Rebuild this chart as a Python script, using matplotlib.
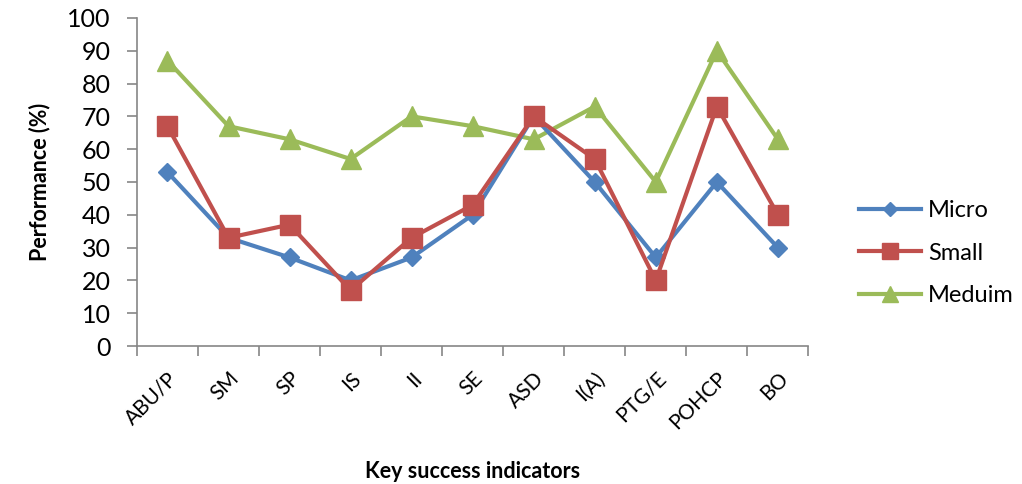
import matplotlib
matplotlib.use("Agg")
import matplotlib.pyplot as plt
import numpy as np

categories = ["ABU/P", "SM", "SP", "IS", "II", "SE", "ASD", "I(A)", "PTG/E", "POHCP", "BO"]
micro = [53, 33, 27, 20, 27, 40, 70, 50, 27, 50, 30]
small = [67, 33, 37, 17, 33, 43, 70, 57, 20, 73, 40]
medium = [87, 67, 63, 57, 70, 67, 63, 73, 50, 90, 63]
y_ticks = list(range(0, 101, 10))

plt.rcParams["font.family"] = ["Lato", "DejaVu Sans"]

fig = plt.figure(figsize=(10.22, 4.84), dpi=100)
ax = fig.add_axes([0.134, 0.285, 0.657, 0.678])

x = np.arange(len(categories))
ax.plot(x, micro, color="#4F81BD", lw=3, marker="D", ms=9, label="Micro", zorder=3)
ax.plot(x, small, color="#C0504D", lw=3, marker="s", ms=14, label="Small", zorder=4)
ax.plot(x, medium, color="#9BBB59", lw=3, marker="^", ms=14, label="Meduim", zorder=2)

ax.set_xlim(-0.5, len(categories) - 0.5)
ax.set_ylim(0, 100)
ax.set_yticks(y_ticks)
ax.tick_params(axis="y", labelsize=18, length=7, width=1.2, color="#868686", pad=12)

ax.set_xticks(x)
ax.set_xticklabels(categories, rotation=45, ha="right", rotation_mode="anchor", fontsize=15)
ax.tick_params(axis="x", which="major", length=0, pad=16)
ax.set_xticks(np.arange(-0.5, len(categories)), minor=True)
ax.tick_params(axis="x", which="minor", length=7, width=1.2, color="#868686")

for side in ("top", "right"):
    ax.spines[side].set_visible(False)
for side in ("left", "bottom"):
    ax.spines[side].set_color("#868686")
    ax.spines[side].set_linewidth(1.2)

ax.set_ylabel("Performance (%)", fontsize=15.5, fontweight="bold", labelpad=12)
ax.set_xlabel("Key success indicators", fontsize=15.5, fontweight="bold", labelpad=20)

fig.legend(loc="center left", bbox_to_anchor=(0.82, 0.477), frameon=False,
           fontsize=17, handlelength=2.6, labelspacing=0.9, handletextpad=0.3,
           markerscale=0.8)

fig.savefig("out.png", dpi=100)
